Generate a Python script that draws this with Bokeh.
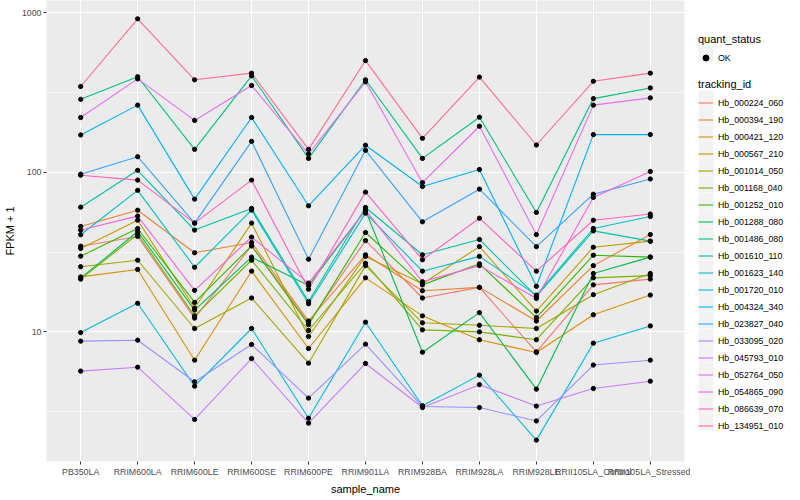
from bokeh.plotting import figure
from bokeh.layouts import row
from bokeh.models import Range1d, FixedTicker, Legend, LegendItem, PrintfTickFormatter
from bokeh.embed import file_html
from bokeh.resources import INLINE

samples = ["PB350LA", "RRIM600LA", "RRIM600LE", "RRIM600SE", "RRIM600PE", "RRIM901LA",
           "RRIM928BA", "RRIM928LA", "RRIM928LE", "RRII105LA_Control", "RRII105LA_Stressed"]

tracking_ids = ["Hb_000224_060", "Hb_000394_190", "Hb_000421_120", "Hb_000567_210", "Hb_001014_050",
                "Hb_001168_040", "Hb_001252_010", "Hb_001288_080", "Hb_001486_080", "Hb_001610_110",
                "Hb_001623_140", "Hb_001720_010", "Hb_004324_340", "Hb_023827_040", "Hb_033095_020",
                "Hb_045793_010", "Hb_052764_050", "Hb_054865_090", "Hb_086639_070", "Hb_134951_010"]

colors = ["#F8766D", "#EA8331", "#D89000", "#C09B00", "#A3A500", "#7CAE00", "#39B600", "#00BB4E",
          "#00BF7D", "#00C1A3", "#00BFC4", "#00BAE0", "#00B0F6", "#35A2FF", "#9590FF", "#C77CFF",
          "#E76BF3", "#FA62DB", "#FF62BC", "#FF6C91"]

quant_status = ["OK"]

# FPKM + 1 per sample, one list per tracking_id
hb_000224_060 = [34.4, 39.6, 12.2, 34.6, 11.4, 37.3, 16.3, 19.0, 7.5, 19.7, 21.4]
hb_000394_190 = [45.7, 57.8, 31.3, 36.3, 11.7, 30.4, 18.1, 19.0, 11.7, 26.0, 40.7]
hb_000421_120 = [22.1, 24.6, 6.65, 24.0, 7.87, 21.8, 12.6, 8.93, 7.43, 12.8, 17.0]
hb_000567_210 = [33.3, 50.0, 14.1, 48.0, 9.35, 29.7, 20.0, 34.2, 13.5, 33.9, 37.0]
hb_001014_050 = [25.6, 28.1, 10.5, 16.3, 6.37, 26.0, 11.4, 11.0, 10.5, 17.1, 23.2]
hb_001168_040 = [21.4, 40.9, 12.6, 28.1, 10.2, 26.9, 10.3, 10.0, 8.93, 21.8, 22.5]
hb_001252_010 = [29.8, 44.4, 15.3, 34.6, 11.1, 41.9, 19.7, 26.7, 12.3, 30.2, 29.4]
hb_001288_080 = [21.7, 42.5, 13.7, 29.4, 19.5, 57.8, 7.46, 13.2, 4.38, 23.2, 29.4]
hb_001486_080 = [286, 396, 139, 401, 122, 379, 122, 221, 56, 289, 337]
hb_001610_110 = [60.4, 102.8, 43.4, 59.3, 15.5, 60.1, 30.4, 37.9, 16.7, 42.9, 37.0]
hb_001623_140 = [40.6, 77.0, 25.4, 57.9, 15.0, 55.4, 24.0, 29.7, 17.0, 44.4, 52.8]
hb_001720_010 = [9.9, 15.1, 4.57, 10.5, 2.88, 11.5, 3.45, 5.36, 2.10, 8.5, 10.9]
hb_004324_340 = [171, 263, 67.8, 220, 61.6, 147.6, 81.4, 104, 19.3, 172, 172]
hb_023827_040 = [97.2, 125, 48, 156, 28.5, 137, 48.9, 78.3, 34.2, 72.8, 90.7]
hb_033095_020 = [8.75, 8.87, 4.87, 8.34, 3.85, 8.38, 3.41, 3.36, 2.77, 6.2, 6.65]
hb_045793_010 = [5.68, 6.01, 2.83, 6.81, 2.68, 6.34, 3.36, 4.67, 3.43, 4.42, 4.91]
hb_052764_050 = [220, 384, 211, 349, 130, 368, 86, 194, 40.7, 263, 292]
hb_054865_090 = [43.4, 53.1, 18.2, 39.2, 20.2, 57.8, 20.6, 26.0, 16.2, 69.5, 101]
hb_086639_070 = [95.8, 89.2, 48, 89.2, 18.5, 75, 28.3, 51.5, 24.0, 50.0, 54.7]
hb_134951_010 = [344, 913, 379, 417, 139, 500, 163, 394, 148, 371, 417]

series = [hb_000224_060, hb_000394_190, hb_000421_120, hb_000567_210, hb_001014_050,
          hb_001168_040, hb_001252_010, hb_001288_080, hb_001486_080, hb_001610_110,
          hb_001623_140, hb_001720_010, hb_004324_340, hb_023827_040, hb_033095_020,
          hb_045793_010, hb_052764_050, hb_054865_090, hb_086639_070, hb_134951_010]

y_ticks = [10, 100, 1000]
y_minor = [10 ** 0.5, 10 ** 1.5, 10 ** 2.5]

FONT = "Liberation Sans"
xpos = list(range(1, len(samples) + 1))

p = figure(frame_width=638, frame_height=461,
           x_range=Range1d(0.4, len(samples) + 0.6), y_range=Range1d(1.543, 1189),
           y_axis_type="log", output_backend="svg", toolbar_location=None,
           min_border_left=37, min_border_right=6, min_border_top=0, min_border_bottom=0,
           background_fill_color="#EBEBEB", border_fill_color="white", outline_line_color=None)

# grids
p.xgrid.ticker = FixedTicker(ticks=xpos)
p.xgrid.grid_line_color = "white"
p.xgrid.grid_line_width = 1.1
p.ygrid.ticker = FixedTicker(ticks=y_ticks, minor_ticks=y_minor)
p.ygrid.grid_line_color = "white"
p.ygrid.grid_line_width = 1.1
p.ygrid.minor_grid_line_color = "white"
p.ygrid.minor_grid_line_width = 0.55

# axes
p.xaxis.ticker = FixedTicker(ticks=xpos)
p.xaxis.major_label_overrides = {x: s for x, s in zip(xpos, samples)}
p.yaxis.ticker = FixedTicker(ticks=y_ticks)
p.yaxis.formatter = PrintfTickFormatter(format="%d")
for ax in (p.xaxis[0], p.yaxis[0]):
    ax.axis_line_color = None
    ax.major_tick_line_color = "#333333"
    ax.major_tick_in = 0
    ax.major_tick_out = 3
    ax.minor_tick_line_color = None
    ax.major_label_text_font = FONT
    ax.major_label_text_font_size = "8.8px"
    ax.major_label_text_color = "#4D4D4D"
    ax.major_label_standoff = 2
    ax.axis_label_text_font = FONT
    ax.axis_label_text_font_size = "11px"
    ax.axis_label_text_font_style = "normal"
    ax.axis_label_text_color = "black"
    ax.axis_label_standoff = 3
p.xaxis.axis_label = "sample_name"
p.yaxis.axis_label = "FPKM + 1"

for vals, col in zip(series, colors):
    p.line(xpos, vals, line_color=col, line_width=1.1)

all_x = [x for vals in series for x in xpos]
all_y = [v for vals in series for v in vals]
p.scatter(all_x, all_y, size=4.3, fill_color="black", line_color="black")

# legend panel (separate figure so the legends are not clipped); 1 data unit = 1 px
lg = figure(frame_width=110, frame_height=484, x_range=Range1d(0, 110), y_range=Range1d(0, 484),
            output_backend="svg", toolbar_location=None, min_border=0,
            x_axis_location=None, y_axis_location=None,
            background_fill_color="white", border_fill_color="white", outline_line_color=None)
lg.xgrid.visible = False
lg.ygrid.visible = False

LEG_X = 8
KEY_W, KEY_H = 15, 17
LEG1_Y, LEG2_Y = 418, 50
SHIFT = 4.5

# grey key backgrounds (ggplot style)
n = len(tracking_ids)
kb_bottom = [LEG2_Y + SHIFT + KEY_H * (n - 1 - i) for i in range(n)] + [LEG1_Y + SHIFT]
lg.quad(left=[LEG_X] * (n + 1), right=[LEG_X + KEY_W] * (n + 1),
        bottom=kb_bottom, top=[b + KEY_H - 0.6 for b in kb_bottom],
        fill_color="#F2F2F2", line_color=None)

nan = float("nan")
key_pts = lg.scatter([nan], [nan], size=4.3, fill_color="black", line_color="black")
key_lines = [lg.line([nan, nan], [nan, nan], line_color=c, line_width=1.1) for c in colors]

common = dict(padding=0, margin=0, spacing=0, glyph_height=KEY_H, glyph_width=KEY_W, label_height=KEY_H,
              label_standoff=5, title_standoff=4, background_fill_alpha=0, border_line_color=None,
              label_text_font=FONT, label_text_font_size="8.8px", label_text_color="black",
              title_text_font=FONT, title_text_font_size="11px", title_text_font_style="normal",
              title_text_color="black")

leg1 = Legend(items=[LegendItem(label=s, renderers=[key_pts]) for s in quant_status],
              title="quant_status", location=(LEG_X, LEG1_Y), **common)
leg2 = Legend(items=[LegendItem(label=t, renderers=[r]) for t, r in zip(tracking_ids, key_lines)],
              title="tracking_id", location=(LEG_X, LEG2_Y), **common)
lg.add_layout(leg1)
lg.add_layout(leg2)

layout = row(p, lg)
open("out.html", "w").write(file_html(layout, INLINE))
